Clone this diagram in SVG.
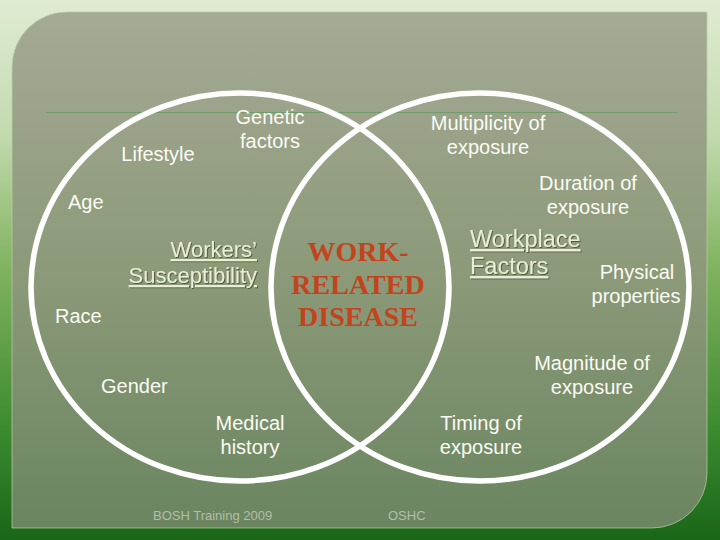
<svg xmlns="http://www.w3.org/2000/svg" width="720" height="540" viewBox="0 0 720 540">
  <defs>
    <linearGradient id="bg" x1="0" y1="0" x2="0" y2="1">
      <stop offset="0" stop-color="#e0ebd2"/>
      <stop offset="0.25" stop-color="#c2daae"/>
      <stop offset="0.5" stop-color="#80b25e"/>
      <stop offset="0.8" stop-color="#3b8a2e"/>
      <stop offset="1" stop-color="#1a6618"/>
    </linearGradient>
    <linearGradient id="panel" x1="0" y1="0" x2="0" y2="1">
      <stop offset="0" stop-color="#a5a995"/>
      <stop offset="0.5" stop-color="#8c9a79"/>
      <stop offset="1" stop-color="#6a8560"/>
    </linearGradient>
    <filter id="sh" x="-10%" y="-10%" width="120%" height="130%">
      <feDropShadow dx="1" dy="1" stdDeviation="0.3" flood-color="#3e4a34" flood-opacity="0.8"/>
    </filter>
  </defs>
  <style>
    .lbl { font-family: "Liberation Sans", Arial, sans-serif; font-size: 20px; fill: #fbfbf4; }
    .key { font-family: "Liberation Sans", Arial, sans-serif; font-size: 22px; fill: #e9eed2; text-decoration: underline; filter: url(#sh); }
    .core { font-family: "Liberation Serif", "Times New Roman", serif; font-size: 28px; font-weight: bold; fill: #c3441c; text-anchor: middle; }
    .foot { font-family: "Liberation Sans", Arial, sans-serif; font-size: 13px; fill: #b3bea6; }
    .ring { fill: none; stroke: #ffffff; stroke-width: 5.5; }
  </style>

  <rect width="720" height="540" fill="url(#bg)"/>
  <path d="M12,67 A55,55 0 0 1 67,12 L707,12 L707,473 A55,55 0 0 1 652,528 L12,528 Z" fill="url(#panel)" stroke="#b7d2a6" stroke-opacity="0.7" stroke-width="1"/>

  <g id="connectors">
    <line x1="46" y1="112.5" x2="677" y2="112.5" stroke="#729b6b" stroke-width="1"/>
    <ellipse class="ring" cx="240" cy="287" rx="209" ry="194"/>
    <ellipse class="ring" cx="480" cy="287" rx="209" ry="194"/>
  </g>

  <g id="lifestyle"><text class="lbl" x="158" y="161" text-anchor="middle">Lifestyle</text></g>
  <g id="genetic"><text class="lbl" x="270" y="124" text-anchor="middle">Genetic</text><text class="lbl" x="270" y="148" text-anchor="middle">factors</text></g>
  <g id="multiplicity"><text class="lbl" x="488" y="130" text-anchor="middle">Multiplicity of</text><text class="lbl" x="488" y="154" text-anchor="middle">exposure</text></g>
  <g id="duration"><text class="lbl" x="588" y="190" text-anchor="middle">Duration of</text><text class="lbl" x="588" y="214" text-anchor="middle">exposure</text></g>
  <g id="age"><text class="lbl" x="68" y="209">Age</text></g>
  <g id="workers"><text class="key" x="257" y="257" text-anchor="end">Workers’</text><text class="key" x="257" y="283" text-anchor="end">Susceptibility</text></g>
  <g id="disease"><text class="core" x="358" y="261">WORK-</text><text class="core" x="358" y="294">RELATED</text><text class="core" x="358" y="326">DISEASE</text></g>
  <g id="workplace"><text class="key" x="470" y="247" style="font-size:23.5px">Workplace</text><text class="key" x="470" y="274" style="font-size:23.5px">Factors</text></g>
  <g id="physical"><text class="lbl" x="637" y="279" text-anchor="middle">Physical</text><text class="lbl" x="636" y="303" text-anchor="middle">properties</text></g>
  <g id="race"><text class="lbl" x="55" y="323">Race</text></g>
  <g id="magnitude"><text class="lbl" x="592" y="370" text-anchor="middle">Magnitude of</text><text class="lbl" x="592" y="394" text-anchor="middle">exposure</text></g>
  <g id="gender"><text class="lbl" x="101" y="393">Gender</text></g>
  <g id="medical"><text class="lbl" x="250" y="430" text-anchor="middle">Medical</text><text class="lbl" x="250" y="454" text-anchor="middle">history</text></g>
  <g id="timing"><text class="lbl" x="481" y="430" text-anchor="middle">Timing of</text><text class="lbl" x="481" y="454" text-anchor="middle">exposure</text></g>
  <g id="footer"><text class="foot" x="153" y="520">BOSH Training 2009</text><text class="foot" x="388" y="520">OSHC</text></g>
</svg>
